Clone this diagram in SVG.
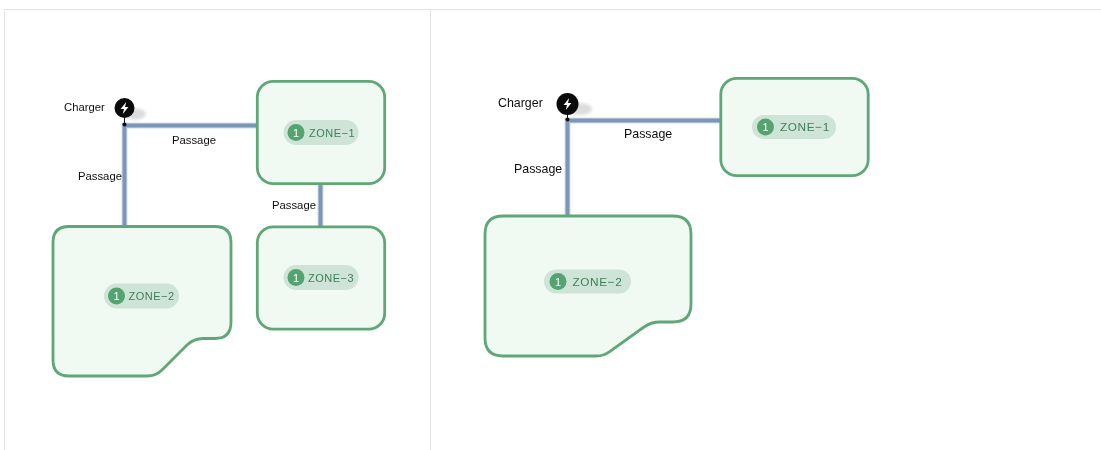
<svg xmlns="http://www.w3.org/2000/svg" width="1101" height="450" viewBox="0 0 1101 450">
<defs>
<filter id="blur" x="-50%" y="-50%" width="200%" height="200%"><feGaussianBlur stdDeviation="1.800"/></filter>
<filter id="soft" x="-10%" y="-10%" width="120%" height="120%"><feGaussianBlur stdDeviation="0.400"/></filter>
</defs>
<style>
.zone{fill:#f0faf3;stroke:#5fa777;stroke-width:2.800}
.pill{fill:#cde4d6}
.dot{fill:#55a36f}
.num{font:11px "Liberation Sans",sans-serif;fill:#fff;text-anchor:middle}
.zt{font:11px "Liberation Sans",sans-serif;fill:#3f7f58;letter-spacing:.5px}
.ztb{font-size:11.800px;letter-spacing:.6px}
.lb{font:11.300px "Liberation Sans",sans-serif;fill:#111}
.lbb{font-size:12.400px}
.pout{fill:none;stroke:#a9bad0;stroke-width:5.500}
.pin{fill:none;stroke:#7b95b8;stroke-width:3}
.frame{stroke:#e2e2e2;stroke-width:1;fill:none}
</style>
<rect width="1101" height="450" fill="#fff"/>
<path class="frame" d="M4.500 450V9.500H1101M430.500 9.500V450"/>
<g id="connectors" filter="url(#soft)">
<path class="pout" d="M124.500 226V125.500H258"/><path class="pin" d="M124.500 226V125.500H258"/>
<path class="pout" d="M320.500 184V227"/><path class="pin" d="M320.500 184V227"/>
<path class="pout" d="M567.500 216V120.500H721"/><path class="pin" d="M567.500 216V120.500H721"/>
</g>
<g id="labels-left" filter="url(#soft)">
<text class="lb" x="64" y="111">Charger</text>
<text class="lb" x="172" y="144">Passage</text>
<text class="lb" x="78" y="180">Passage</text>
<text class="lb" x="272" y="209">Passage</text>
</g>
<g id="labels-right" filter="url(#soft)">
<text class="lb lbb" x="498" y="107">Charger</text>
<text class="lb lbb" x="624" y="138">Passage</text>
<text class="lb lbb" x="514" y="172.500">Passage</text>
</g>
<g id="charger-left">
<ellipse cx="135" cy="114" rx="11" ry="5.500" fill="#dcdcdc" filter="url(#blur)"/>
<line x1="124.500" y1="116" x2="124.500" y2="124" stroke="#111"/>
<circle cx="124.500" cy="124.500" r="2" fill="#111"/>
<circle cx="124.500" cy="108" r="10" fill="#0a0a0a"/>
<path d="M126.200 102 L120.600 109 H124 L122.800 114 L128.400 107 H125 Z" fill="#fff"/>
</g>
<g id="charger-right">
<ellipse cx="580" cy="109" rx="12" ry="6" fill="#dcdcdc" filter="url(#blur)"/>
<line x1="567.500" y1="112" x2="567.500" y2="119" stroke="#111"/>
<circle cx="567.500" cy="119.500" r="2" fill="#111"/>
<circle cx="567.500" cy="104" r="11" fill="#0a0a0a"/>
<path d="M569.200 98 L563.600 105 H567 L565.800 110 L571.400 103 H568 Z" fill="#fff"/>
</g>
<g id="zone-1-left" filter="url(#soft)">
<rect class="zone" x="257.300" y="81.300" width="127.400" height="102.400" rx="16"/>
<rect class="pill" x="283.500" y="120" width="75" height="25" rx="12.500"/>
<circle class="dot" cx="296" cy="132.500" r="8.500"/>
<text class="num" x="296" y="136.500">1</text>
<text class="zt" x="309" y="136.500">ZONE−1</text>
</g>
<g id="zone-3-left" filter="url(#soft)">
<rect class="zone" x="257.300" y="226.800" width="127.400" height="102.400" rx="16"/>
<rect class="pill" x="283.500" y="265" width="75" height="25" rx="12.500"/>
<circle class="dot" cx="296" cy="277.500" r="8.500"/>
<text class="num" x="296" y="281.500">1</text>
<text class="zt" x="308" y="281.500">ZONE−3</text>
</g>
<g id="zone-2-left" filter="url(#soft)">
<path class="zone" d="M69 226.500H215Q231 226.500 231 242.500V322Q231 338.500 215 338.500H203Q194 338.500 187 345L162 370Q156 376 147 376H69Q53 376 53 360V242.500Q53 226.500 69 226.500Z"/>
<rect class="pill" x="104" y="283.500" width="75" height="25" rx="12.500"/>
<circle class="dot" cx="116.500" cy="296" r="8.500"/>
<text class="num" x="116.500" y="300">1</text>
<text class="zt" x="128.500" y="300">ZONE−2</text>
</g>
<g id="zone-1-right" filter="url(#soft)">
<rect class="zone" x="720.800" y="78.300" width="147.400" height="97.400" rx="16"/>
<rect class="pill" x="752" y="115" width="84" height="24" rx="12"/>
<circle class="dot" cx="765.500" cy="127" r="8.500"/>
<text class="num" x="765.500" y="131">1</text>
<text class="zt ztb" x="780" y="131">ZONE−1</text>
</g>
<g id="zone-2-right" filter="url(#soft)">
<path class="zone" d="M503 216H673Q691 216 691 234V304Q691 322 673 322H660Q651 322 644 327L609 352Q604 356 596 356H503Q485 356 485 338V234Q485 216 503 216Z"/>
<rect class="pill" x="544" y="269.500" width="87" height="24" rx="12"/>
<circle class="dot" cx="558" cy="281.500" r="8.500"/>
<text class="num" x="558" y="285.500">1</text>
<text class="zt ztb" x="572.500" y="285.500">ZONE−2</text>
</g>
</svg>
